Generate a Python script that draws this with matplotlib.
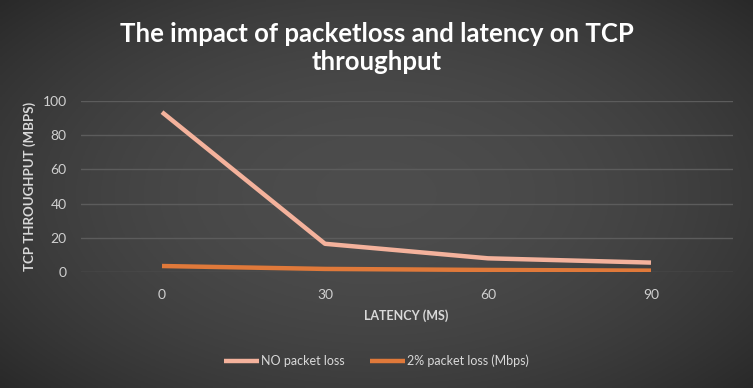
import matplotlib
matplotlib.use("Agg")
import matplotlib.pyplot as plt
import numpy as np

plt.rcParams['font.family'] = ['Lato', 'DejaVu Sans']

latency = ["0", "30", "60", "90"]
no_loss = [93.5, 16.5, 8.0, 5.5]
loss_2pct = [3.5, 1.8, 1.2, 0.8]

fig = plt.figure(figsize=(7.53, 3.88), dpi=100)

# dark radial-ish background
bg = fig.add_axes([0, 0, 1, 1], zorder=-10)
xx, yy = np.meshgrid(np.linspace(-1, 1, 300), np.linspace(-1, 1, 160))
r = np.sqrt(xx**2 + (yy * 0.9)**2)
shade = 0.30 - 0.15 * np.clip(r, 0, 1.4) ** 2 / 1.96
bg.imshow(np.dstack([shade, shade, shade]), aspect='auto', extent=[0, 1, 0, 1])
bg.axis('off')

ax = fig.add_axes([80.5 / 753, 1 - 272 / 388, 652 / 753, 171 / 388])
ax.set_facecolor('none')
pos = np.arange(len(latency))
ax.plot(pos, no_loss, color='#F4B29C', lw=3.2, solid_capstyle='butt', label='NO packet loss')
ax.plot(pos, loss_2pct, color='#E0793A', lw=3.2, solid_capstyle='butt', label='2% packet loss (Mbps)')

ax.set_xlim(-0.5, 3.5)
ax.set_ylim(0, 100)
ax.set_xticks(pos)
ax.set_xticklabels(latency)
ax.set_yticks(range(0, 101, 20))
ax.yaxis.grid(True, color='#5c5c5c', lw=1)
ax.set_axisbelow(True)
for s in ax.spines.values():
    s.set_visible(False)
ax.tick_params(length=0, colors='#d0d0d0', labelsize=10)
ax.tick_params(axis='x', pad=12)
ax.tick_params(axis='y', pad=10)

ax.set_xlabel('LATENCY (MS)', color='#d9d9d9', fontsize=9, fontweight='bold', labelpad=6)
ax.set_ylabel('TCP THROUGHPUT (MBPS)', color='#d9d9d9', fontsize=9.5, fontweight='bold', labelpad=5)

fig.text(0.5, 1 - 48 / 388, 'The impact of packetloss and latency on TCP\nthroughput',
         ha='center', va='center', color='white', fontsize=18.5, fontweight='bold',
         linespacing=1.2)

fig.legend(loc='center', bbox_to_anchor=(0.5, 1 - 361 / 388), ncol=2, frameon=False,
           fontsize=9, labelcolor='#d9d9d9', handlelength=2.8, handletextpad=0.2,
           columnspacing=2.0)

fig.savefig('out.png', dpi=100)
